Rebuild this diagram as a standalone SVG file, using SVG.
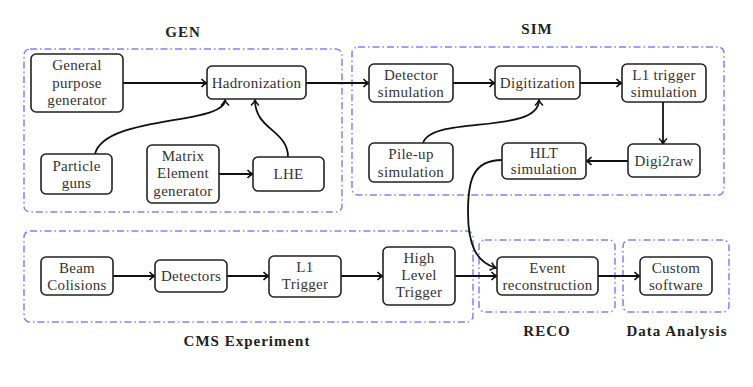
<svg xmlns="http://www.w3.org/2000/svg" width="753" height="387" viewBox="0 0 753 387">
<defs>
<style>
.grp{fill:none;stroke:#8080ff;stroke-width:1.5;stroke-dasharray:7 3 1.5 3}
.nd{fill:#fff;stroke:#222;stroke-width:1.6}
.t{font-family:'Liberation Serif','Times New Roman','DejaVu Serif',serif;font-size:15px;fill:#333;text-anchor:middle;letter-spacing:0.3px}
.h{font-family:'Liberation Serif','Times New Roman','DejaVu Serif',serif;font-size:15px;font-weight:bold;fill:#222;text-anchor:middle;letter-spacing:1px}
.c{fill:none;stroke:#111;stroke-width:1.8;marker-end:url(#ar)}
</style>
<marker id="ar" markerWidth="10" markerHeight="10" refX="7" refY="5" orient="auto" markerUnits="userSpaceOnUse">
<path d="M1.5,1 Q4,4 7,5 Q4,6 1.5,9" fill="none" stroke="#111" stroke-width="1.6"/>
</marker>
</defs>
<rect width="753" height="387" fill="#fff"/>
<g id="groups">
<rect class="grp" x="24" y="49" width="318" height="163" rx="6"/>
<rect class="grp" x="352" y="47" width="372" height="148" rx="6"/>
<rect class="grp" x="24" y="231" width="449" height="91" rx="6"/>
<rect class="grp" x="479" y="240" width="136" height="72" rx="6"/>
<rect class="grp" x="623" y="240" width="106" height="72" rx="6"/>
<text class="h" x="183" y="37">GEN</text>
<text class="h" x="537" y="34">SIM</text>
<text class="h" x="247" y="346">CMS Experiment</text>
<text class="h" x="547" y="336">RECO</text>
<text class="h" x="677" y="336">Data Analysis</text>
</g>
<g id="connectors">
<path class="c" d="M123,83 H207"/>
<path class="c" d="M306,83 H369"/>
<path class="c" d="M453,83 H495"/>
<path class="c" d="M580,83 H622"/>
<path class="c" d="M663,102 V144"/>
<path class="c" d="M628,161 H586"/>
<path class="c" d="M219,174 H253"/>
<path class="c" d="M95,154 C105,115 225,125 225,100"/>
<path class="c" d="M288,157 C288,130 255,130 255,100"/>
<path class="c" d="M423,143 C432,115 539,135 539,100"/>
<path class="c" d="M502,160 C472,160 468,182 468,212 C468,245 476,262 496,268"/>
<path class="c" d="M113,276 H155"/>
<path class="c" d="M227,276 H269"/>
<path class="c" d="M341,276 H383"/>
<path class="c" d="M455,276 H497"/>
<path class="c" d="M598,276 H640"/>
</g>
<g id="gpg"><rect class="nd" x="31" y="54" width="92" height="58" rx="5"/><text class="t" x="77" y="70">General</text><text class="t" x="77" y="88">purpose</text><text class="t" x="77" y="105">generator</text></g>
<g id="hadronization"><rect class="nd" x="207" y="66" width="99" height="33" rx="5"/><text class="t" x="256.5" y="87.5">Hadronization</text></g>
<g id="pguns"><rect class="nd" x="41" y="154" width="71" height="40" rx="5"/><text class="t" x="76.5" y="171">Particle</text><text class="t" x="76.5" y="188">guns</text></g>
<g id="meg"><rect class="nd" x="147" y="145" width="72" height="58" rx="5"/><text class="t" x="183" y="161">Matrix</text><text class="t" x="183" y="178">Element</text><text class="t" x="183" y="196">generator</text></g>
<g id="lhe"><rect class="nd" x="253" y="157" width="71" height="34" rx="5"/><text class="t" x="288.5" y="179">LHE</text></g>
<g id="detsim"><rect class="nd" x="369" y="64" width="84" height="38" rx="5"/><text class="t" x="411" y="80">Detector</text><text class="t" x="411" y="97">simulation</text></g>
<g id="digit"><rect class="nd" x="495" y="66" width="85" height="33" rx="5"/><text class="t" x="537.5" y="87.5">Digitization</text></g>
<g id="l1sim"><rect class="nd" x="622" y="64" width="84" height="38" rx="5"/><text class="t" x="664" y="80">L1 trigger</text><text class="t" x="664" y="97">simulation</text></g>
<g id="pileup"><rect class="nd" x="369" y="143" width="84" height="39" rx="5"/><text class="t" x="411" y="159">Pile-up</text><text class="t" x="411" y="177">simulation</text></g>
<g id="hltsim"><rect class="nd" x="502" y="143" width="84" height="36" rx="5"/><text class="t" x="544" y="158">HLT</text><text class="t" x="544" y="174">simulation</text></g>
<g id="digi2raw"><rect class="nd" x="628" y="144" width="72" height="33" rx="5"/><text class="t" x="664" y="165.5">Digi2raw</text></g>
<g id="beam"><rect class="nd" x="41" y="257" width="72" height="38" rx="5"/><text class="t" x="77" y="273">Beam</text><text class="t" x="77" y="290">Colisions</text></g>
<g id="detectors"><rect class="nd" x="155" y="260" width="72" height="32" rx="5"/><text class="t" x="191" y="281">Detectors</text></g>
<g id="l1trig"><rect class="nd" x="269" y="256" width="72" height="41" rx="5"/><text class="t" x="305" y="272">L1</text><text class="t" x="305" y="289">Trigger</text></g>
<g id="hlt"><rect class="nd" x="383" y="247" width="72" height="58" rx="5"/><text class="t" x="419" y="263">High</text><text class="t" x="419" y="280">Level</text><text class="t" x="419" y="297">Trigger</text></g>
<g id="eventreco"><rect class="nd" x="497" y="257" width="101" height="38" rx="5"/><text class="t" x="547.5" y="273">Event</text><text class="t" x="547.5" y="290">reconstruction</text></g>
<g id="custom"><rect class="nd" x="640" y="257" width="72" height="38" rx="5"/><text class="t" x="676" y="273">Custom</text><text class="t" x="676" y="290">software</text></g>
</svg>
